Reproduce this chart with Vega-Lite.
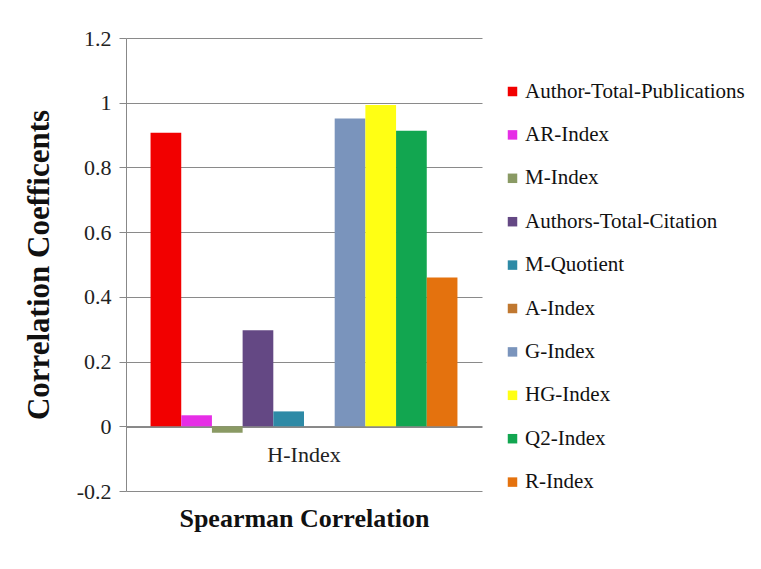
{
  "$schema": "https://vega.github.io/schema/vega-lite/v6.json",
  "autosize": "none",
  "width": 356,
  "height": 453,
  "padding": {"left": 126, "top": 38, "right": 279, "bottom": 78},
  "background": "white",
  "data": {"values": [
    {"group": "H-Index", "series": "Author-Total-Publications", "value": 0.907},
    {"group": "H-Index", "series": "AR-Index", "value": 0.034},
    {"group": "H-Index", "series": "M-Index", "value": -0.02},
    {"group": "H-Index", "series": "Authors-Total-Citation", "value": 0.297},
    {"group": "H-Index", "series": "M-Quotient", "value": 0.046},
    {"group": "H-Index", "series": "A-Index", "value": 0.0},
    {"group": "H-Index", "series": "G-Index", "value": 0.951},
    {"group": "H-Index", "series": "HG-Index", "value": 0.993},
    {"group": "H-Index", "series": "Q2-Index", "value": 0.913},
    {"group": "H-Index", "series": "R-Index", "value": 0.46}
  ]},
  "mark": {"type": "bar"},
  "encoding": {
    "x": {
      "field": "group", "type": "nominal",
      "scale": {"paddingInner": 0, "paddingOuter": 0.08},
      "axis": {
        "title": "Spearman Correlation", "offset": -64,
        "labelAngle": 0, "labelFont": "Liberation Serif", "labelFontSize": 22, "labelColor": "#222",
        "labelPadding": 17, "ticks": false, "domainColor": "#888",
        "titleFont": "Liberation Serif", "titleFontSize": 26, "titleFontWeight": "bold", "titleColor": "#111",
        "titleY": 99, "titleBaseline": "alphabetic"
      }
    },
    "xOffset": {
      "field": "series", "type": "nominal",
      "sort": ["Author-Total-Publications", "AR-Index", "M-Index", "Authors-Total-Citation", "M-Quotient", "A-Index", "G-Index", "HG-Index", "Q2-Index", "R-Index"],
      "scale": {"paddingInner": 0, "paddingOuter": 0}
    },
    "y": {
      "field": "value", "type": "quantitative",
      "scale": {"domain": [-0.2, 1.2], "nice": false, "zero": false},
      "axis": {
        "title": "Correlation Coefficents", "values": [-0.2, 0, 0.2, 0.4, 0.6, 0.8, 1, 1.2],
        "labelExpr": "'' + datum.value",
        "grid": true, "gridColor": "#8a8a8a", "gridWidth": 1,
        "domainColor": "#888", "tickColor": "#888", "tickSize": 7,
        "labelFont": "Liberation Serif", "labelFontSize": 22, "labelColor": "#222", "labelPadding": 8,
        "titleFont": "Liberation Serif", "titleFontSize": 31, "titleFontWeight": "bold", "titleColor": "#111",
        "titlePadding": 21
      }
    },
    "color": {
      "field": "series", "type": "nominal",
      "sort": ["Author-Total-Publications", "AR-Index", "M-Index", "Authors-Total-Citation", "M-Quotient", "A-Index", "G-Index", "HG-Index", "Q2-Index", "R-Index"],
      "scale": {
        "domain": ["Author-Total-Publications", "AR-Index", "M-Index", "Authors-Total-Citation", "M-Quotient", "A-Index", "G-Index", "HG-Index", "Q2-Index", "R-Index"],
        "range": ["#f20000", "#e62ee6", "#8a9a64", "#644884", "#2e8aa6", "#c07830", "#7a94bc", "#ffff14", "#12a650", "#e4720e"]
      },
      "legend": {
        "title": null, "orient": "none", "legendX": 376, "legendY": 43,
        "symbolType": "square", "symbolSize": 90, "symbolStrokeWidth": 0,
        "labelFont": "Liberation Serif", "labelFontSize": 21, "labelColor": "#111",
        "rowPadding": 21.4, "labelOffset": 2, "labelLimit": 300
      }
    }
  },
  "config": {
    "font": "Liberation Serif",
    "view": {"stroke": null}
  }
}
